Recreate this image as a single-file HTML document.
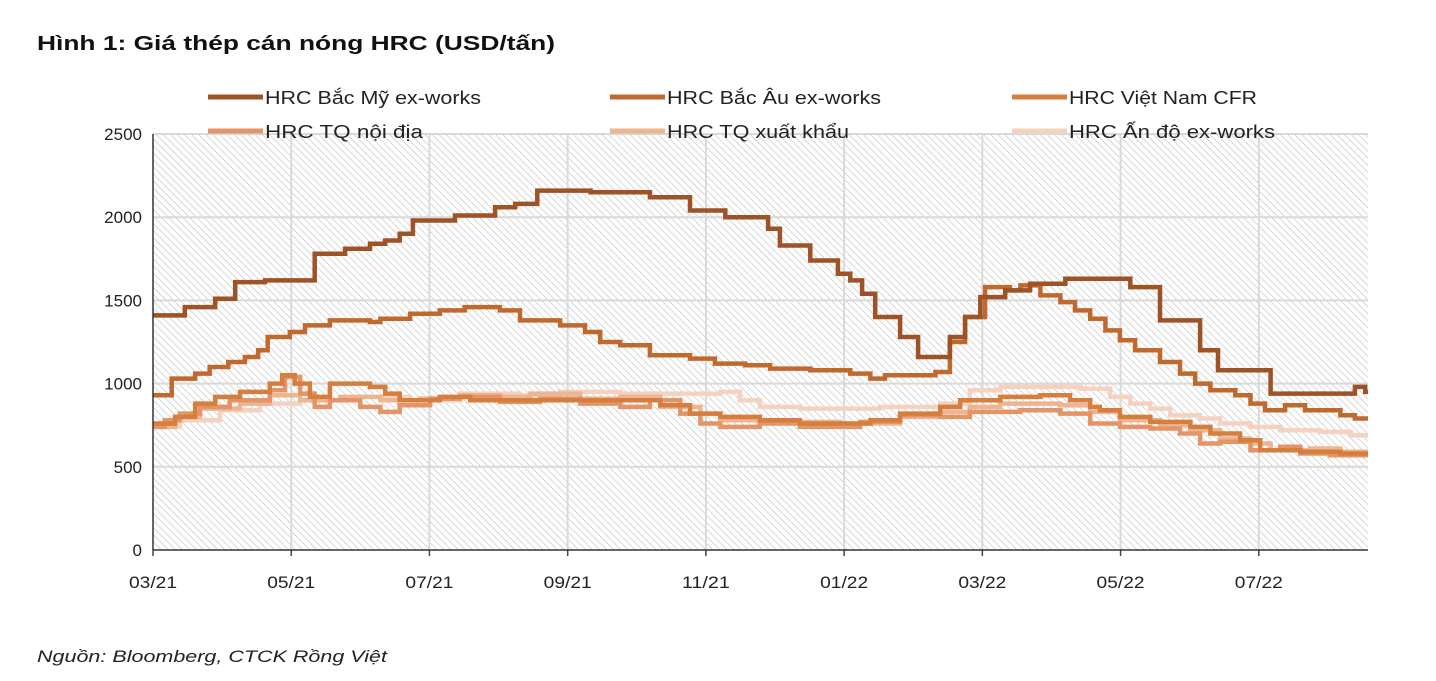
<!DOCTYPE html>
<html><head><meta charset="utf-8">
<style>
body{margin:0;background:#fff;width:1436px;height:676px;overflow:hidden;font-family:"Liberation Sans",sans-serif;}
svg text{font-family:"Liberation Sans","DejaVu Sans",sans-serif;}
</style></head>
<body>
<svg id="chart" width="1436" height="676" xmlns="http://www.w3.org/2000/svg">
<defs>
<pattern id="hatch" patternUnits="userSpaceOnUse" width="5" height="5" patternTransform="rotate(-45)">
<line x1="0" y1="0" x2="0" y2="5" stroke="#bdbdbd" stroke-width="1.2"/>
</pattern>
</defs>
<text x="37" y="50" font-size="20" font-weight="bold" fill="#111" textLength="518" lengthAdjust="spacingAndGlyphs">Hình 1: Giá thép cán nóng HRC (USD/tấn)</text>
<rect x="153" y="134" width="1215" height="416" fill="url(#hatch)"/>
<g id="grid"></g>
<g id="series"></g>
<g id="axes"></g>
<g id="legend"></g>
<text x="37" y="662" font-size="17" font-style="italic" fill="#222" textLength="350" lengthAdjust="spacingAndGlyphs">Nguồn: Bloomberg, CTCK Rồng Việt</text>
</svg>
<script>
const yTicks=[0,500,1000,1500,2000,2500];
const xTickLabels=["03/21","05/21","07/21","09/21","11/21","01/22","03/22","05/22","07/22"];
const xTickMonths=[0,2,4,6,8,10,12,14,16];
const seriesNames=["HRC Bắc Mỹ ex-works","HRC Bắc Âu ex-works","HRC Việt Nam CFR","HRC TQ nội địa","HRC TQ xuất khẩu","HRC Ấn độ ex-works"];
const legendWidths=[216,214,188,158,182,206];
const seriesColors=["#9E5326","#C0692F","#D57E3E","#E39568","#EDB592","#F4D2BF"];
const usX=[0,0.46,0.9,1.19,1.62,2.34,2.78,3.14,3.36,3.57,3.76,4.37,4.95,5.24,5.56,6.33,7.19,7.77,8.28,8.9,9.07,9.51,9.91,10.09,10.26,10.45,10.81,11.07,11.53,11.75,11.97,12.33,12.69,13.2,14.14,14.57,15.15,15.41,16.17,17.39,17.54];
const usY=[1410,1460,1510,1610,1620,1780,1810,1840,1860,1900,1980,2010,2060,2080,2160,2150,2120,2040,2000,1930,1830,1740,1660,1620,1540,1400,1280,1160,1280,1400,1520,1560,1600,1630,1580,1380,1200,1080,940,980,950];
const euX=[0,0.27,0.61,0.82,1.09,1.33,1.52,1.66,1.98,2.2,2.56,3.14,3.29,3.72,4.15,4.51,5.02,5.31,5.89,6.25,6.47,6.76,7.19,7.77,8.13,8.57,8.93,9.51,10.09,10.38,10.59,11.32,11.53,11.75,12.04,12.4,12.55,12.84,13.13,13.34,13.56,13.78,13.99,14.21,14.57,14.86,15.08,15.3,15.66,15.88,16.09,16.38,16.67,17.18,17.39];
const euY=[930,1030,1060,1100,1130,1160,1200,1280,1310,1350,1380,1370,1390,1420,1440,1460,1440,1380,1350,1310,1250,1230,1170,1150,1120,1110,1090,1080,1060,1030,1050,1070,1250,1400,1580,1560,1590,1530,1490,1440,1390,1320,1260,1200,1130,1060,1000,960,930,880,840,870,840,810,790];
const vnX=[0,0.32,0.61,0.9,1.26,1.69,1.87,2.05,2.27,2.56,3.14,3.36,3.57,4.15,4.59,7.05,7.34,7.77,8.21,8.78,9.36,10.38,10.81,11.39,11.68,12.26,12.84,13.27,13.56,13.7,13.99,14.43,15.01,15.3,15.73,16.02,16.6,17.18];
const vnY=[760,800,880,920,950,1000,1050,1000,920,1000,980,940,900,920,900,900,870,820,800,780,760,780,820,860,900,920,930,900,860,840,800,770,740,700,660,600,590,580];
const cnX=[0,0.17,0.39,0.68,1.11,1.69,1.91,2.13,2.34,2.56,3.0,3.29,3.57,4.01,4.44,5.02,5.6,6.18,6.76,7.19,7.63,7.92,8.21,8.78,9.36,10.23,10.81,11.39,11.82,12.55,13.13,13.56,13.99,14.43,14.86,15.15,15.44,15.88,16.31,16.6,17.03];
const cnY=[740,780,820,860,900,960,1040,940,860,900,860,830,870,910,920,890,910,880,860,900,820,760,740,760,740,770,810,800,830,840,820,760,740,730,700,640,650,600,620,580,570];
const cxX=[0,0.32,0.68,1.26,1.69,2.13,2.71,3.29,3.86,4.44,5.02,5.46,6.18,6.76,7.34,7.92,8.21,9.07,9.94,10.81,11.39,11.82,12.26,13.13,13.56,13.99,14.57,15.01,15.44,15.88,16.17,16.74,17.18];
const cxY=[740,800,850,880,930,900,920,900,910,930,920,940,910,920,860,820,780,770,760,800,830,860,880,870,830,780,750,720,670,640,600,610,590];
const inX=[0,0.39,0.97,1.55,2.13,3.0,3.72,4.44,5.31,5.89,6.76,7.63,8.21,8.49,8.78,9.36,10.52,11.39,11.82,12.26,13.42,13.85,14.14,14.43,14.72,15.15,15.44,15.88,16.31,16.89,17.33];
const inY=[740,780,840,880,900,920,900,940,930,950,940,940,950,900,860,850,860,880,960,980,970,920,880,850,810,790,760,740,720,710,690];
const allX=[usX,euX,vnX,cnX,cxX,inX];
const allY=[usY,euY,vnY,cnY,cxY,inY];
const seriesKeys=["north-america","north-europe","vietnam-cfr","china-domestic","china-export","india"];

const NS="http://www.w3.org/2000/svg";
const X0=153,X1=1368,Y0=550,Y1=134,MONTH_END=17.58,YMAX=2500;
function sx(m){return X0+(X1-X0)*m/MONTH_END;}
function sy(v){return Y0-(Y0-Y1)*v/YMAX;}
function mk(tag,attrs,parent){const e=document.createElementNS(NS,tag);for(const k in attrs)e.setAttribute(k,attrs[k]);parent.appendChild(e);return e;}
const grid=document.getElementById('grid'),axes=document.getElementById('axes'),ser=document.getElementById('series'),leg=document.getElementById('legend');
yTicks.forEach(v=>{
  if(v>0){const l=mk('line',{x1:X0,x2:X1,y1:sy(v),y2:sy(v),stroke:'#d9d9d9','stroke-width':2},grid);
  
  }
  const t=mk('text',{x:142,y:sy(v)+6,'text-anchor':'end','font-size':17,fill:'#222'},axes);
  t.textContent=v;
  
  
});
xTickMonths.forEach((m,i)=>{
  if(m>0){const l=mk('line',{x1:sx(m),x2:sx(m),y1:Y1,y2:Y0,stroke:'#d9d9d9','stroke-width':2},grid);
  
  }
  const tk=mk('line',{x1:sx(m),x2:sx(m),y1:Y0,y2:Y0+6,stroke:'#444','stroke-width':1.5},axes);
  
  
  const t=mk('text',{x:sx(m),y:588,'text-anchor':'middle','font-size':17,fill:'#222',textLength:48,lengthAdjust:'spacingAndGlyphs'},axes);
  t.textContent=xTickLabels[i];
  
  
});
const ya=mk('line',{x1:X0,x2:X0,y1:Y1,y2:Y0,stroke:'#333','stroke-width':1.5},axes);


const xa=mk('line',{x1:X0,x2:X1,y1:Y0,y2:Y0,stroke:'#333','stroke-width':1.5},axes);


for(let s=allX.length-1;s>=0;s--){
  const xs=allX[s],ys=allY[s];
  let d='M'+sx(xs[0]).toFixed(1)+','+sy(ys[0]).toFixed(1);
  for(let i=1;i<xs.length;i++){d+=' H'+sx(xs[i]).toFixed(1)+' V'+sy(ys[i]).toFixed(1);}
  d+=' H'+sx(MONTH_END).toFixed(1);
  const p=mk('path',{d:d,fill:'none',stroke:seriesColors[s],'stroke-width':4.5,'stroke-linejoin':'miter'},ser);
  
  
}
const legCols=[208,610,1012],legRows=[97,131];
seriesNames.forEach((n,i)=>{
  const x=legCols[i%3],y=legRows[Math.floor(i/3)];
  const g=mk('g',{},leg);
  
  
  mk('line',{x1:x,x2:x+55,y1:y,y2:y,stroke:seriesColors[i],'stroke-width':5},g);
  const t=mk('text',{x:x+57,y:y+7,'font-size':18,fill:'#222',textLength:legendWidths[i],lengthAdjust:'spacingAndGlyphs'},g);
  t.textContent=n;
});
</script>
</body></html>
